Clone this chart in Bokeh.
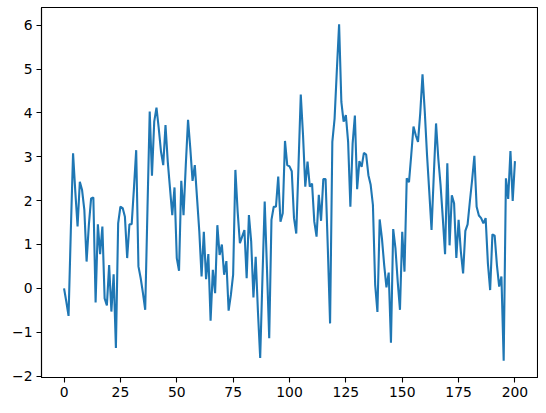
from bokeh.plotting import figure
from bokeh.embed import file_html
from bokeh.resources import INLINE
from bokeh.models import Range1d, FixedTicker

x_vals = list(range(201))
y_vals = [
    0.0, -0.3, -0.63, 1.3, 3.08, 2.2, 1.41, 2.43, 2.24, 1.79,
    0.61, 1.44, 2.05, 2.07, -0.32, 1.46, 0.78, 1.41, -0.23, -0.39,
    0.53, -0.53, 0.32, -1.36, 1.48, 1.86, 1.83, 1.63, 0.69, 1.46,
    1.46, 2.28, 3.15, 0.5, 0.23, -0.11, -0.49, 1.8, 4.03, 2.57,
    3.80, 4.12, 3.65, 3.12, 2.81, 3.72, 2.89, 2.28, 1.67, 2.30,
    0.69, 0.40, 2.45, 1.67, 2.81, 3.84, 3.19, 2.45, 2.81, 2.05,
    1.29, 0.27, 1.29, 0.21, 0.78, -0.74, 0.42, -0.11, 1.44, 0.76,
    1.0, 0.31, 0.62, -0.51, -0.15, 0.31, 2.70, 1.75, 1.03, 1.18,
    1.33, 0.23, 1.67, 1.07, -0.21, 0.72, -0.53, -1.59, 0.23, 1.98,
    0.46, -1.14, 1.56, 1.86, 1.86, 2.55, 1.52, 1.71, 3.36, 2.81,
    2.78, 2.67, 1.60, 1.25, 2.81, 4.42, 3.49, 2.32, 2.89, 2.32,
    2.39, 1.52, 1.18, 2.13, 1.54, 2.49, 2.49, 0.91, -0.80, 3.34,
    3.87, 4.97, 6.02, 4.25, 3.80, 3.95, 3.34, 1.86, 3.30, 3.94,
    2.26, 2.90, 2.77, 3.09, 3.05, 2.58, 2.36, 1.9, 0.08, -0.54,
    1.57, 1.14, 0.53, 0.02, 0.36, -1.24, 1.35, 0.91, 0.15, -0.49,
    1.29, 0.38, 2.51, 2.42, 3.04, 3.69, 3.49, 3.34, 4.0, 4.88,
    4.03, 3.04, 2.20, 1.33, 2.58, 3.76, 2.96, 2.36, 1.60, 0.78,
    2.85, 0.98, 2.12, 1.94, 0.69, 1.56, 0.84, 0.34, 1.31, 1.46,
    1.98, 2.47, 3.02, 1.86, 1.66, 1.60, 1.48, 1.60, 0.57, -0.04,
    1.23, 1.20, 0.53, 0.04, 0.27, -1.65, 2.51, 2.04, 3.13, 1.99,
    2.90,
]
x_ticks = [0, 25, 50, 75, 100, 125, 150, 175, 200]
y_ticks = [-2, -1, 0, 1, 2, 3, 4, 5, 6]

ymin, ymax = min(y_vals), max(y_vals)
ypad = (ymax - ymin) * 0.05
xpad = (max(x_vals) - min(x_vals)) * 0.05

p = figure(
    frame_width=496, frame_height=370,
    min_border_left=41, min_border_right=1, min_border_top=7, min_border_bottom=26,
    x_range=Range1d(min(x_vals) - xpad, max(x_vals) + xpad),
    y_range=Range1d(ymin - ypad, ymax + ypad),
    output_backend="svg", toolbar_location=None,
)
p.line(x_vals, y_vals, line_color="#1f77b4", line_width=2.1)

p.xgrid.visible = False
p.ygrid.visible = False
p.outline_line_color = "black"
p.outline_line_width = 1.1
p.background_fill_color = "white"
p.border_fill_color = "white"

p.xaxis.ticker = FixedTicker(ticks=x_ticks)
p.yaxis.ticker = FixedTicker(ticks=y_ticks)
p.yaxis.major_label_overrides = {t: (f"\u2212{abs(t)}" if t < 0 else str(t)) for t in y_ticks}
for ax in (p.xaxis, p.yaxis):
    ax.axis_line_color = "black"
    ax.axis_line_width = 1.1
    ax.major_tick_line_color = "black"
    ax.major_tick_line_width = 1.1
    ax.major_tick_out = 5
    ax.major_tick_in = 0
    ax.minor_tick_line_color = None
    ax.major_label_text_font = "DejaVu Sans"
    ax.major_label_text_font_size = "13.9px"
    ax.major_label_text_color = "black"
    ax.major_label_standoff = 4

open("out.html", "w").write(file_html(p, INLINE))
